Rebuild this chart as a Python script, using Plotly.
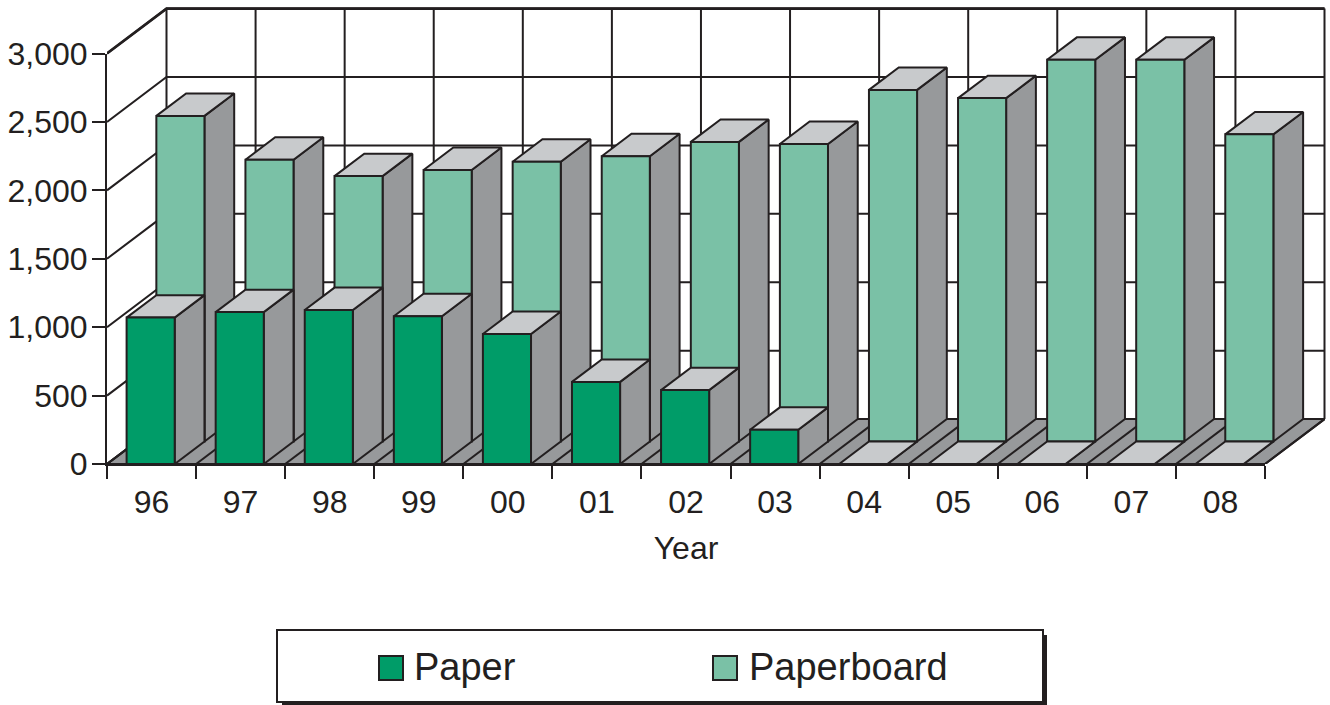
import plotly.graph_objects as go

# Annual production by grade
years = ["96", "97", "98", "99", "00", "01", "02", "03", "04", "05", "06", "07", "08"]
paper = [1070, 1110, 1125, 1080, 950, 600, 540, 250, 0, 0, 0, 0, 0]
paperboard = [2380, 2060, 1940, 1985, 2045, 2085, 2190, 2175, 2570, 2510, 2790, 2790, 2245]
value_ticks = [0, 500, 1000, 1500, 2000, 2500, 3000]

INK = "#231f20"
PAPER_GREEN = "#009c68"
BOARD_GREEN = "#7ac1a6"
SIDE_GREY = "#97999b"
TOP_GREY = "#c8cacc"
FLOOR_GREY = "#97999b"
FONT = "Liberation Sans"

# Canvas layout in pixels. The frame holds the labelled axes; the scene is the
# larger area that also has room for the receding walls.
W, H = 1330, 705
FRAME_LEFT, FRAME_RIGHT, FRAME_TOP, FRAME_BOTTOM = 107, 1265, 53.5, 464
SCENE_RIGHT, SCENE_TOP = 1328, 4

# Oblique projection: each unit of depth shifts a point right and up the value scale
DEPTH_X = 0.334
DEPTH_Y = 164
BAR_WIDTH = 0.54
n = len(years)
x_lo, x_hi = -0.5, n - 0.5
y_max = value_ticks[-1]

scene_w = SCENE_RIGHT - FRAME_LEFT
scene_h = FRAME_BOTTOM - SCENE_TOP
frame_w = FRAME_RIGHT - FRAME_LEFT
frame_h = FRAME_BOTTOM - FRAME_TOP
scene_x_max = x_lo + (x_hi - x_lo) * scene_w / frame_w
scene_y_max = y_max * scene_h / frame_h


def project(x, v, depth):
    return x + depth * DEPTH_X, v + depth * DEPTH_Y


def path(points):
    xs, ys = [], []
    for group in points:
        for x, v, d in group:
            px, py = project(x, v, d)
            xs.append(px)
            ys.append(py)
        xs.append(None)
        ys.append(None)
    return xs, ys


def polygon_trace(groups, fill, name, width=2, hover=False):
    xs, ys = path(groups)
    return go.Scatter(
        x=xs, y=ys, mode="lines", fill="toself", fillcolor=fill, name=name,
        line=dict(color=INK, width=width), showlegend=False,
        hoverinfo="name" if hover else "skip",
    )


def line_trace(groups, width=2):
    xs, ys = path(groups)
    return go.Scatter(
        x=xs, y=ys, mode="lines", line=dict(color=INK, width=width),
        showlegend=False, hoverinfo="skip",
    )


def bar_traces(values, depth, face, name):
    """One series of blocks: side faces, then top faces, then front faces."""
    sides, tops, fronts = [], [], []
    hw = BAR_WIDTH / 2
    for i, v in enumerate(values):
        c = i - 0.01
        l, r = c - hw, c + hw
        fronts.append([(l, 0, depth), (r, 0, depth), (r, v, depth), (l, v, depth), (l, 0, depth)])
        sides.append([(r, 0, depth), (r, 0, depth + 1), (r, v, depth + 1), (r, v, depth), (r, 0, depth)])
        tops.append([(l, v, depth), (r, v, depth), (r, v, depth + 1), (l, v, depth + 1), (l, v, depth)])
    return [
        polygon_trace(sides, SIDE_GREY, name),
        polygon_trace(tops, TOP_GREY, name),
        polygon_trace(fronts, face, name, hover=True),
    ]


traces = []

# Floor
traces.append(polygon_trace(
    [[(x_lo, 0, 0), (x_hi, 0, 0), (x_hi, 0, 2), (x_lo, 0, 2), (x_lo, 0, 0)]],
    FLOOR_GREY, "floor",
))

# Back and side wall grid, plus the floor's category rules
boundaries = [x_lo + i for i in range(n + 1)]
wall = []
for v in value_ticks:
    wall.append([(x_lo, v, 0), (x_lo, v, 2), (x_hi, v, 2)])
for b in boundaries:
    wall.append([(b, 0, 2), (b, y_max, 2)])
    wall.append([(b, 0, 0), (b, 0, 2)])
traces.append(line_trace(wall))
traces.append(line_trace([[(x_lo, y_max, 0), (x_lo, y_max, 2), (x_hi, y_max, 2)]], width=2.6))

# Rear series first, front series on top of it
traces += bar_traces(paperboard, 1, BOARD_GREEN, "Paperboard")
traces += bar_traces(paper, 0, PAPER_GREEN, "Paper")

# Unpainted series on the frame axes so that they are laid out and drawn
traces.append(go.Scatter(
    x=list(range(n)), y=paper, xaxis="x2", yaxis="y2", mode="markers",
    marker=dict(opacity=0), showlegend=False, hoverinfo="skip",
))

fig = go.Figure(traces)


def px_x(p):
    return (p - FRAME_LEFT) / scene_w


def px_y(p):
    return (FRAME_BOTTOM - p) / scene_h


def rect(x0, y0, x1, y1, fill, line_width=2):
    return dict(
        type="rect", xref="paper", yref="paper",
        x0=px_x(x0), x1=px_x(x1), y0=px_y(y1), y1=px_y(y0),
        fillcolor=fill, line=dict(color=INK, width=line_width), layer="above",
    )


# Legend panel with its drop shadow
shapes = [
    rect(282, 635, 1047, 705, INK, 0),
    rect(277, 630, 1043, 702, "white"),
    rect(379, 656, 403, 680, PAPER_GREEN, 2),
    rect(713, 656, 737, 680, BOARD_GREEN, 2),
]
annotations = [
    dict(text=label, xref="paper", yref="paper", x=px_x(xpos), y=px_y(667),
         xanchor="left", yanchor="middle", showarrow=False,
         font=dict(family=FONT, size=38, color=INK))
    for label, xpos in (("Paper", 412), ("Paperboard", 747))
]

fig.update_layout(
    width=W, height=H,
    margin=dict(l=FRAME_LEFT, r=W - SCENE_RIGHT, t=SCENE_TOP, b=H - FRAME_BOTTOM, autoexpand=False),
    paper_bgcolor="white", plot_bgcolor="rgba(0,0,0,0)",
    font=dict(family=FONT, size=32, color=INK),
    showlegend=False,
    shapes=shapes, annotations=annotations,
    # Scene axes carry the marks and stay hidden
    xaxis=dict(range=[x_lo, scene_x_max], domain=[0, 1], visible=False),
    yaxis=dict(range=[0, scene_y_max], domain=[0, 1], visible=False),
    # Frame axes share the same scale and draw the ticks, labels and title
    xaxis2=dict(
        anchor="y2", domain=[0, frame_w / scene_w], range=[x_lo, x_hi],
        showgrid=False, zeroline=False,
        showline=True, linecolor=INK, linewidth=2,
        tickmode="array", tickvals=list(range(n)), ticktext=years,
        ticks="", ticklabelstandoff=9,
        minor=dict(tickmode="array", tickvals=boundaries, ticks="outside",
                   ticklen=13, tickwidth=2, tickcolor=INK, showgrid=False),
        title=dict(text="Year", standoff=17, font=dict(family=FONT, size=32, color=INK)),
    ),
    yaxis2=dict(
        anchor="x2", domain=[0, frame_h / scene_h], range=[0, y_max],
        showgrid=False, zeroline=False,
        showline=True, linecolor=INK, linewidth=2,
        tickmode="array", tickvals=value_ticks, tickformat=",",
        ticks="outside", ticklen=13, tickwidth=2, tickcolor=INK,
        ticklabelstandoff=-2,
    ),
)

fig.write_html("out.html")
